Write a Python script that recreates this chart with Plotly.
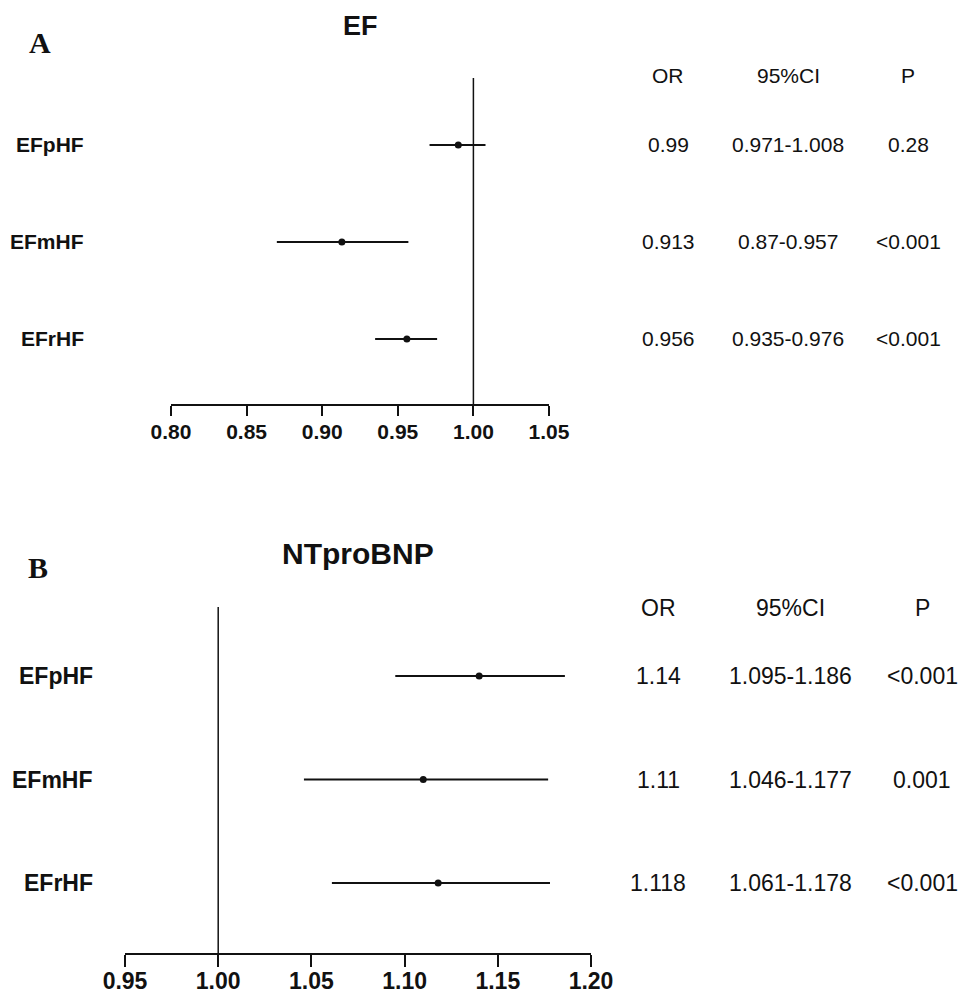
import plotly.graph_objects as go

# ---------------- data ----------------
groups = ["EFpHF", "EFmHF", "EFrHF"]
row_pos = [3, 2, 1]

ef_or = [0.99, 0.913, 0.956]
ef_lo = [0.971, 0.87, 0.935]
ef_hi = [1.008, 0.957, 0.976]
ef_p = ["0.28", "<0.001", "<0.001"]

bnp_or = [1.14, 1.11, 1.118]
bnp_lo = [1.095, 1.046, 1.061]
bnp_hi = [1.186, 1.177, 1.178]
bnp_p = ["<0.001", "0.001", "<0.001"]

ef_ticks = [0.80, 0.85, 0.90, 0.95, 1.00, 1.05]
bnp_ticks = [0.95, 1.00, 1.05, 1.10, 1.15, 1.20]
table_headers = ["OR", "95%CI", "P"]

# ---------------- layout helpers ----------------
W, H = 962, 997
def px(x):
    return x / W
def py(y):
    return 1 - y / H

SANS = "Liberation Sans, Arial, sans-serif"
SERIF = "Liberation Serif, Times New Roman, serif"
INK = "#111111"

fig = go.Figure()

def forest(orv, lo, hi, xa, ya):
    fig.add_trace(go.Scatter(
        x=orv, y=row_pos, mode="markers", xaxis=xa, yaxis=ya,
        marker=dict(color=INK, size=7),
        error_x=dict(type="data", symmetric=False,
                     array=[h - o for h, o in zip(hi, orv)],
                     arrayminus=[o - l for o, l in zip(orv, lo)],
                     color=INK, thickness=2, width=0),
        showlegend=False, hoverinfo="skip"))

forest(ef_or, ef_lo, ef_hi, "x", "y")
forest(bnp_or, bnp_lo, bnp_hi, "x2", "y2")

# reference lines at OR = 1
for xr, yr in [("x", "y domain"), ("x2", "y2 domain")]:
    fig.add_shape(type="line", xref=xr, yref=yr, x0=1, x1=1, y0=0, y1=1,
                  line=dict(color=INK, width=1.5))

ann = []

def panel_text(letter, lx, ly, title, tx, ty, tsize, label_x, label_size,
               yref, orv, lo, hi, pv, col_x, head_y, tab_size):
    ann.append(dict(text=letter, x=px(lx), y=py(ly), xref="paper", yref="paper",
                    showarrow=False, xanchor="center", yanchor="middle",
                    font=dict(family=SERIF, size=30, color=INK, weight="bold")))
    ann.append(dict(text=title, x=px(tx), y=py(ty), xref="paper", yref="paper",
                    showarrow=False, xanchor="center", yanchor="middle",
                    font=dict(family=SANS, size=tsize, color=INK, weight="bold")))
    for g, r in zip(groups, row_pos):
        ann.append(dict(text=g, x=px(label_x), y=r, xref="paper", yref=yref,
                        showarrow=False, xanchor="right", yanchor="middle",
                        font=dict(family=SANS, size=label_size, color=INK, weight="bold")))
    for h, cx in zip(table_headers, col_x):
        ann.append(dict(text=h, x=px(cx), y=py(head_y), xref="paper", yref="paper",
                        showarrow=False, xanchor="center", yanchor="middle",
                        font=dict(family=SANS, size=tab_size, color=INK)))
    for o, l, hh, p, r in zip(orv, lo, hi, pv, row_pos):
        for t, cx in zip([str(o), f"{l}-{hh}", p], col_x):
            ann.append(dict(text=t, x=px(cx), y=r, xref="paper", yref=yref,
                            showarrow=False, xanchor="center", yanchor="middle",
                            font=dict(family=SANS, size=tab_size, color=INK)))

panel_text("A", 40, 42, "EF", 360, 26, 27, 86, 21, "y",
           ef_or, ef_lo, ef_hi, ef_p, [668, 788, 908], 75, 21)
panel_text("B", 38, 567, "NTproBNP", 358, 553, 30, 95, 23, "y2",
           bnp_or, bnp_lo, bnp_hi, bnp_p, [658, 790, 922], 608, 23)

xcommon = dict(showline=True, linecolor=INK, linewidth=2, ticks="outside",
               tickwidth=2, tickcolor=INK, showgrid=False, zeroline=False,
               fixedrange=True, automargin=False)

fig.update_layout(
    template="none",
    width=W, height=H,
    margin=dict(l=0, r=0, t=0, b=0, pad=0, autoexpand=False),
    paper_bgcolor="white", plot_bgcolor="white",
    xaxis=dict(domain=[px(171), px(549)], range=[0.80, 1.05], anchor="y",
               tickvals=ef_ticks, ticktext=[f"{t:.2f}" for t in ef_ticks],
               ticklen=10, ticklabelstandoff=-2,
               tickfont=dict(family=SANS, size=21, color=INK, weight="bold"),
               **xcommon),
    yaxis=dict(domain=[py(404), py(78)], range=[0.33, 3.69], visible=False,
               anchor="x", fixedrange=True, automargin=False),
    xaxis2=dict(domain=[px(125), px(591)], range=[0.95, 1.20], anchor="y2",
                tickvals=bnp_ticks, ticktext=[f"{t:.2f}" for t in bnp_ticks],
                ticklen=12, ticklabelstandoff=-6,
                tickfont=dict(family=SANS, size=23, color=INK, weight="bold"),
                **xcommon),
    yaxis2=dict(domain=[py(953), py(607)], range=[0.324, 3.667], visible=False,
                anchor="x2", fixedrange=True, automargin=False),
    annotations=ann,
)

fig.write_html("out.html",
               config={"displayModeBar": False},
               post_script="document.body.style.margin='0';document.body.style.overflow='hidden';")
